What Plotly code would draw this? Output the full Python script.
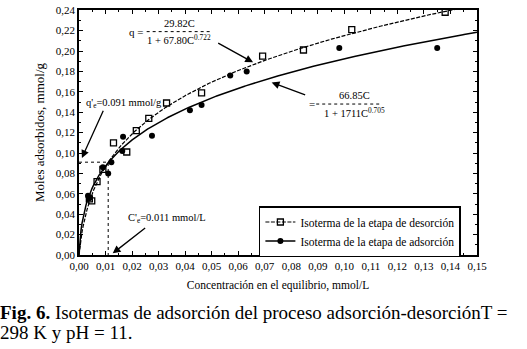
import numpy as np
import plotly.graph_objects as go

# ---- data ----
des_C = [0.0039, 0.0048, 0.0068, 0.0090, 0.0130, 0.0180, 0.0216, 0.0263, 0.0330,
         0.0462, 0.0692, 0.0846, 0.1028, 0.1380]
des_q = [0.055, 0.053, 0.072, 0.084, 0.110, 0.101, 0.122, 0.134, 0.149,
         0.159, 0.195, 0.201, 0.221, 0.238]

ads_C = [0.0034, 0.0040, 0.0090, 0.0110, 0.0122, 0.0163, 0.0166, 0.0275, 0.0418,
         0.0462, 0.0570, 0.0632, 0.0981, 0.1350]
ads_q = [0.058, 0.056, 0.086, 0.080, 0.091, 0.102, 0.116, 0.117, 0.142,
         0.147, 0.176, 0.180, 0.203, 0.203]

# fitted isotherm parameters printed on the chart: q = K*C / (1 + a*C^b)
des_K, des_a, des_b = 29.82, 67.80, 0.722
ads_K, ads_a, ads_b = 66.85, 171.1, 0.705

qe_value = 0.091   # q'e
ce_value = 0.011   # C'e

x_ticks = [round(0.01 * i, 2) for i in range(16)]
y_ticks = [round(0.02 * i, 2) for i in range(13)]

serif = "Liberation Serif, Times New Roman, Times, serif"

C_fit = np.linspace(0.0, 0.15, 400)
des_fit = des_K * C_fit / (1 + des_a * C_fit ** des_b)
ads_fit = ads_K * C_fit / (1 + ads_a * C_fit ** ads_b)

des_line = dict(color="black", width=1.2, dash="4px,1.5px")
ads_line = dict(color="black", width=1.5)
des_marker = dict(symbol="square-open", size=6, color="black",
                  line=dict(width=1.3, color="black"))
ads_marker = dict(symbol="circle", size=6, color="black")

fig = go.Figure()

# fit curves
fig.add_trace(go.Scatter(x=C_fit, y=des_fit, mode="lines", showlegend=False,
                         line=des_line, hoverinfo="skip"))
fig.add_trace(go.Scatter(x=C_fit, y=ads_fit, mode="lines", showlegend=False,
                         line=ads_line, hoverinfo="skip"))

# measured points
fig.add_trace(go.Scatter(x=des_C, y=des_q, mode="markers", showlegend=False,
                         marker=des_marker))
fig.add_trace(go.Scatter(x=ads_C, y=ads_q, mode="markers", showlegend=False,
                         marker=ads_marker))

# legend entries (line + marker samples)
fig.add_trace(go.Scatter(x=[None], y=[None], mode="lines+markers",
                         name="Isoterma de la etapa de desorción",
                         line=des_line, marker=des_marker))
fig.add_trace(go.Scatter(x=[None], y=[None], mode="lines+markers",
                         name="Isoterma de la etapa de adsorción",
                         line=ads_line, marker=ads_marker))

# guide lines for q'e and C'e
fig.add_trace(go.Scatter(x=[0, ce_value, ce_value], y=[qe_value, qe_value, 0],
                         mode="lines", showlegend=False, hoverinfo="skip",
                         line=dict(color="black", width=1, dash="dot")))

ann = []
def txt(x, y, s, size=10.5, xanchor="center", yanchor="middle"):
    ann.append(dict(x=x, y=y, xref="x", yref="y", text=s, showarrow=False,
                    xanchor=xanchor, yanchor=yanchor,
                    font=dict(family=serif, size=size, color="black")))

def arrow(x0, y0, x1, y1):
    ann.append(dict(x=x1, y=y1, ax=x0, ay=y0, xref="x", yref="y", axref="x", ayref="y",
                    text="", showarrow=True, arrowhead=2, arrowsize=1.2,
                    arrowwidth=1.3, arrowcolor="black"))

# upper equation
txt(0.0215, 0.2190, "q =", size=11)
txt(0.0377, 0.2267, "29.82C")
txt(0.0376, 0.2110, "1 + 67.80C<sup>0.722</sup>")
# lower equation
txt(0.0880, 0.1485, "=", size=11)
txt(0.1040, 0.1560, "66.85C")
txt(0.1040, 0.1400, "1 + 1711C<sup>0.705</sup>")
# q'e and C'e labels
txt(0.0020, 0.1487, "q'<sub>e</sub>=0.091 mmol/g", xanchor="left")
txt(0.0178, 0.0355, "C'<sub>e</sub>=0.011 mmol/L", xanchor="left")

arrow(0.0519, 0.2086, 0.0656, 0.1889)
arrow(0.0858, 0.1565, 0.0726, 0.1692)
arrow(0.0094, 0.1429, 0.0011, 0.0952)
arrow(0.0255, 0.0276, 0.0127, 0.0016)

# caption
ann.append(dict(x=-81 / 398, y=-0.236, xref="paper", yref="paper", showarrow=False,
                xanchor="left", yanchor="middle", align="left",
                text="<b>Fig. 6.</b> Isotermas de adsorción del proceso adsorción-desorciónT =",
                font=dict(family=serif, size=19, color="black")))
ann.append(dict(x=-81 / 398, y=-0.318, xref="paper", yref="paper", showarrow=False,
                xanchor="left", yanchor="middle", align="left",
                text="298 K y pH = 11.",
                font=dict(family=serif, size=19, color="black")))

shapes = [
    dict(type="line", xref="x", yref="y", x0=0.0255, x1=0.0496, y0=0.2190, y1=0.2190,
         line=dict(color="black", width=1, dash="dot")),
    dict(type="line", xref="x", yref="y", x0=0.0894, x1=0.1136, y0=0.1480, y1=0.1480,
         line=dict(color="black", width=1, dash="dot")),
]

axis_common = dict(showline=True, linecolor="black", linewidth=1.5, mirror="ticks",
                   ticks="inside", ticklen=4, tickwidth=1.2, tickcolor="black",
                   showgrid=False, zeroline=False,
                   tickfont=dict(family=serif, size=11, color="black"),
                   tickformat=".2f")

fig.update_layout(
    width=527, height=349,
    margin=dict(l=79, r=50, t=4, b=94),
    plot_bgcolor="white", paper_bgcolor="white",
    separators=",.",
    font=dict(family=serif, color="black"),
    xaxis=dict(range=[0, 0.15], tickvals=x_ticks,
               minor=dict(ticks="inside", ticklen=2.5, dtick=0.005, tickcolor="black"),
               title=dict(text="Concentración en el equilibrio, mmol/L", standoff=10,
                          font=dict(family=serif, size=11.5)),
               **axis_common),
    yaxis=dict(range=[0, 0.2402], tickvals=y_ticks,
               minor=dict(ticks="inside", ticklen=2.5, dtick=0.01, tickcolor="black"),
               title=dict(text="Moles adsorbidos, mmol/g", standoff=8,
                          font=dict(family=serif, size=13)),
               **axis_common),
    legend=dict(x=0.452, y=0.200, xanchor="left", yanchor="top",
                bgcolor="white", bordercolor="black", borderwidth=1.5,
                font=dict(family=serif, size=11.5, color="black"),
                itemwidth=30, tracegroupgap=0),
    annotations=ann,
    shapes=shapes,
)

fig.write_html("out.html", config={"displayModeBar": False},
               post_script="document.body.style.margin='0px';")
